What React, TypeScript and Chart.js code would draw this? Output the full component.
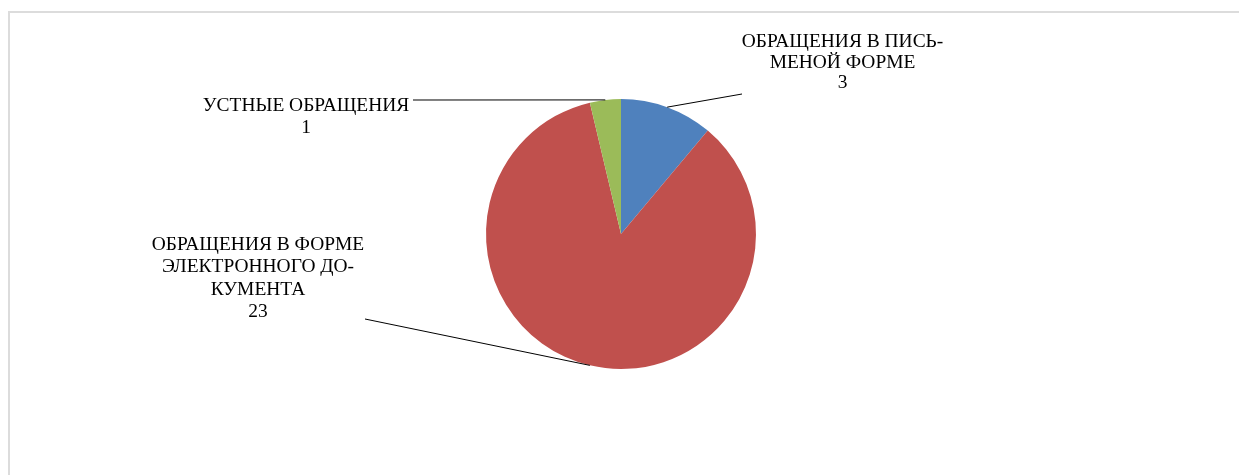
import React, { useEffect, useRef } from "react";
import { Chart, registerables } from "chart.js";

Chart.register(...registerables);

const categories = [
  "ОБРАЩЕНИЯ В ПИСЬМЕНОЙ ФОРМЕ",
  "ОБРАЩЕНИЯ В ФОРМЕ ЭЛЕКТРОННОГО ДОКУМЕНТА",
  "УСТНЫЕ ОБРАЩЕНИЯ",
];
const labelLines = [
  ["ОБРАЩЕНИЯ В ПИСЬ-", "МЕНОЙ ФОРМЕ"],
  ["ОБРАЩЕНИЯ В ФОРМЕ", "ЭЛЕКТРОННОГО ДО-", "КУМЕНТА"],
  ["УСТНЫЕ ОБРАЩЕНИЯ"],
];
const values = [3, 23, 1];
const colors = ["#4F81BD", "#C0504D", "#9BBB59"];

// label layout relative to pie center (text center x, first baseline y, line height, leader end)
const labelLayout = [
  { cx: 221.5, by: -187, lh: 20.7, ex: 121, ey: -140 },
  { cx: -363, by: 16, lh: 22.4, ex: -256, ey: 85 },
  { cx: -315, by: -123, lh: 21.5, ex: -208, ey: -134 },
];
const textScaleX = 1.08;

const labelPlugin = {
  id: "pieLabels",
  afterDatasetsDraw(chart: any) {
    const ctx = chart.ctx;
    const meta = chart.getDatasetMeta(0);
    meta.data.forEach((arc: any, i: number) => {
      const p = arc.getProps(["x", "y", "startAngle", "endAngle", "outerRadius"], true);
      const mid = (p.startAngle + p.endAngle) / 2;
      const sx = p.x + Math.cos(mid) * p.outerRadius;
      const sy = p.y + Math.sin(mid) * p.outerRadius;
      const L = labelLayout[i];
      ctx.save();
      ctx.strokeStyle = "#000";
      ctx.lineWidth = 1;
      ctx.beginPath();
      ctx.moveTo(sx, sy);
      ctx.lineTo(p.x + L.ex, p.y + L.ey);
      ctx.stroke();
      ctx.fillStyle = "#000";
      ctx.font = '18px "Liberation Serif", "Times New Roman", serif';
      ctx.textAlign = "center";
      ctx.textBaseline = "alphabetic";
      const lines = [...labelLines[i], String(values[i])];
      lines.forEach((t, k) => {
        const tx = p.x + L.cx;
        const ty = p.y + L.by + k * L.lh;
        ctx.save();
        ctx.translate(tx, ty);
        ctx.scale(textScaleX, 1);
        ctx.fillText(t, 0, 0);
        ctx.restore();
      });
      ctx.restore();
    });
  },
};

export default function App() {
  const ref = useRef<HTMLCanvasElement | null>(null);
  useEffect(() => {
    document.body.style.overflow = "hidden";
    document.documentElement.style.overflow = "hidden";
    const chart = new Chart(ref.current as HTMLCanvasElement, {
      type: "pie",
      data: {
        labels: categories,
        datasets: [
          {
            data: values,
            backgroundColor: colors,
            borderWidth: 0,
          },
        ],
      },
      options: {
        animation: false,
        responsive: false,
        layout: { padding: { left: 476, right: 491, top: 86, bottom: 106 } },
        plugins: {
          legend: { display: false },
          tooltip: { enabled: false },
        },
      },
      plugins: [labelPlugin],
    });
    return () => chart.destroy();
  }, []);
  return (
    <div
      style={{
        position: "relative",
        width: 1239,
        height: 464,
        marginTop: 3,
        borderTop: "2px solid #dcdcdc",
        borderLeft: "2px solid #dcdcdc",
        boxSizing: "border-box",
      }}
    >
      <canvas
        ref={ref}
        width={1237}
        height={462}
        style={{ position: "absolute", left: 0, top: 0, width: 1237, height: 462 }}
      />
    </div>
  );
}
